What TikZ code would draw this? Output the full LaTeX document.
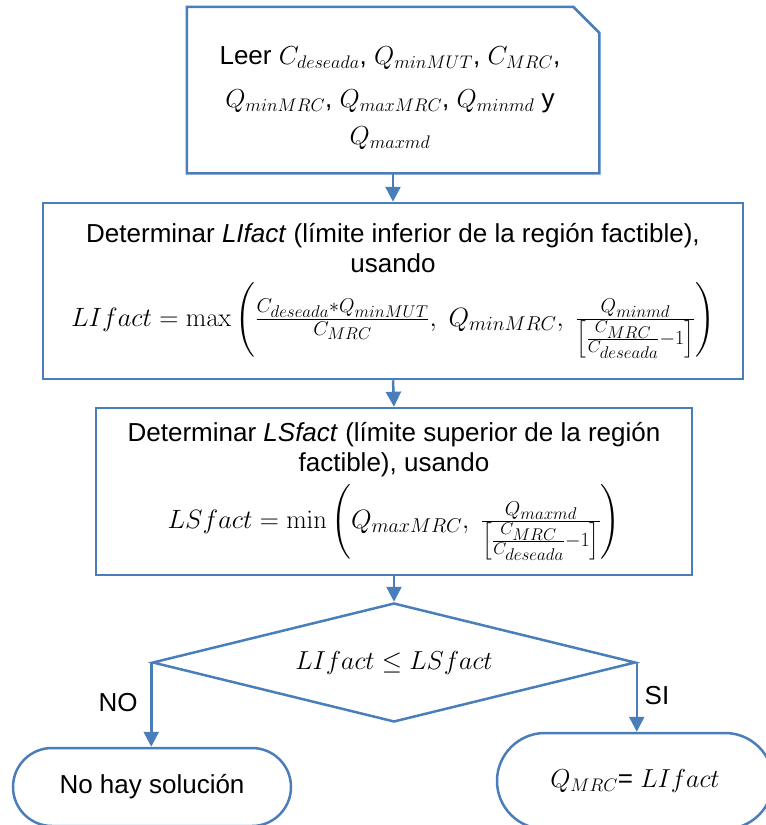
\documentclass[tikz,border=0pt]{standalone}
\usepackage{fix-cm}
\usepackage{amsmath}
\usepackage[no-math]{fontspec}
\setsansfont{Liberation Sans}
\usetikzlibrary{shapes.misc,shapes.geometric,arrows.meta}
\definecolor{fblue}{HTML}{4A7EBB}
\DeclareMathSizes{26.5}{26.5}{20}{17}
\newcommand{\bigmath}{\fontsize{26.5}{30}\selectfont}
\begin{document}
\begin{tikzpicture}[x=1pt,y=-1pt,
  every node/.style={font=\sffamily\fontsize{26}{30}\selectfont},
  box/.style={draw=fblue,line width=2.5pt,rectangle,inner sep=0pt,align=center},
  outline/.style={draw=fblue,line width=2.5pt,line join=miter},
  conn/.style={draw=fblue,line width=2.5pt,-{Triangle[width=15pt,length=15pt]}},
  term/.style={draw=fblue,line width=2.5pt,rounded rectangle,inner sep=0pt,align=center},
  plain/.style={inner sep=0pt,align=center}]
\useasboundingbox (0,0) rectangle (766,825);

% top input box (snipped corner)
\node[box,draw=none,minimum width=410pt,minimum height=164pt] (read) at (393,90) {};
\draw[outline] (read.south west) -- (read.north west) -- ([xshift=-26pt]read.north east)
  -- ([yshift=-26pt]read.north east) -- (read.south east) -- cycle;
\node[plain] (readtxt) at (390,98)
  {Leer $C_{deseada}$, $Q_{minMUT}$, $C_{MRC}$,\\[13pt]
   $Q_{minMRC}$, $Q_{maxMRC}$, $Q_{minmd}$ y\\[7pt]
   $Q_{maxmd}$};

% LIfact box
\node[box,minimum width=700pt,minimum height=176pt] (li) at (393,291)
  {Determinar \textit{LIfact} (límite inferior de la región factible),\\
   usando\\[8pt]
   {\bigmath$LIfact=\max\left(\tfrac{C_{deseada}*Q_{minMUT}}{C_{MRC}},\ Q_{minMRC},\ \tfrac{Q_{minmd}}{\left[\frac{C_{MRC}}{C_{deseada}}-1\right]}\right)$}};

% LSfact box
\node[box,minimum width=596pt,minimum height=167pt] (ls) at (394,491.5)
  {Determinar \textit{LSfact} (límite superior de la región\\
   factible), usando\\[6pt]
   {\bigmath$LSfact=\min\left(Q_{maxMRC},\ \tfrac{Q_{maxmd}}{\left[\frac{C_{MRC}}{C_{deseada}}-1\right]}\right)$}};

% decision
\node[draw=fblue,line width=2.5pt,diamond,shape aspect=4.06,inner sep=0pt,
      minimum width=483pt,minimum height=119pt] (dec) at (394,662.5)
  {$LIfact \leq LSfact$};

% terminals
\node[term,minimum width=278pt,minimum height=78pt] (nosol) at (152,787) {No hay solución};
\node[term,minimum width=276pt,minimum height=96pt] (sol) at (635,781) {$Q_{MRC}$= $LIfact$};

% connectors
\draw[conn] (read.south) -- (li.north);
\draw[conn] (li.south) -- (ls.north);
\draw[conn] (ls.south) -- (dec.north);
\draw[conn] (dec.west) -- (dec.west |- nosol.north);
\draw[conn] (dec.east) -- (dec.east |- sol.north);

% labels
\node[plain] (no) at (118,703) {NO};
\node[plain] (si) at (657,696) {SI};
\end{tikzpicture}
\end{document}
